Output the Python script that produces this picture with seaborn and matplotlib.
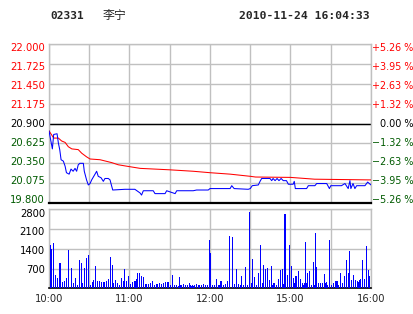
import matplotlib
matplotlib.use("Agg")
import matplotlib.pyplot as plt
import matplotlib.transforms as mtransforms
import numpy as np
import pandas as pd
import seaborn as sns

# ---------------- data ----------------
stock_code = "02331"
stock_name = "李宁"
stamp = "2010-11-24 16:04:33"
prev_close = 20.900
price_ticks = [19.800, 20.075, 20.350, 20.625, 20.900, 21.175, 21.450, 21.725, 22.000]
pct_labels = ["−5.26 %", "−3.95 %", "−2.63 %", "−1.32 %", "0.00 %",
              "+1.32 %", "+2.63 %", "+3.95 %", "+5.26 %"]
vol_ticks = [700, 1400, 2100, 2800]
time_ticks = [0, 30, 60, 90, 120, 150, 180, 210, 240]
time_labels = ["10:00", "", "11:00", "", "12:00", "", "15:00", "", "16:00"]

# trading minutes since 10:00 (minute 150 = 14:30 after the lunch break)
price_min = [0, 2.5, 3.5, 6, 7, 8, 9, 10.7, 12, 13,
             15, 16.4, 18, 19.4, 20.6, 21.8, 23, 25.6, 26.3, 28,
             29.3, 30.6, 31.8, 34.3, 35.5, 36.7, 38.8, 40.5, 41.7, 44.2,
             45.5, 46.2, 47.5, 56.6, 64, 67.8, 69, 70.3, 77.7, 79,
             86.5, 87.7, 94, 95.2, 107.5, 110, 118.7, 120, 135, 136.2,
             138, 148.5, 150, 151.5, 156, 157.3, 158.5, 164.7, 166, 167,
             168.5, 170, 171.4, 173, 174.6, 177, 178.4, 182, 182.8, 183.6,
             192, 193.3, 198.2, 199.5, 207, 209, 210, 218, 220.6, 223,
             224.3, 225, 226.6, 228, 229.3, 235.5, 237.5, 240]
price_val = [20.80, 20.55, 20.75, 20.76, 20.63, 20.54, 20.40, 20.38, 20.31, 20.22,
             20.20, 20.27, 20.24, 20.28, 20.24, 20.33, 20.35, 20.35, 20.24, 20.12,
             20.05, 20.07, 20.12, 20.20, 20.24, 20.17, 20.15, 20.10, 20.14, 20.14,
             20.12, 20.07, 19.98, 19.99, 19.99, 19.94, 19.91, 19.97, 19.97, 19.93,
             19.93, 19.97, 19.93, 19.97, 19.97, 19.98, 19.98, 20.00, 20.00, 20.04,
             20.00, 19.99, 20.00, 20.04, 20.05, 20.10, 20.14, 20.14, 20.11, 20.14,
             20.11, 20.14, 20.11, 20.14, 20.11, 20.11, 20.06, 20.06, 20.10, 20.00,
             20.00, 20.04, 20.04, 20.07, 20.07, 20.00, 20.04, 20.04, 20.07, 20.00,
             20.11, 20.00, 20.07, 20.00, 20.04, 20.04, 20.09, 20.05]

avg_min = [0, 3.5, 7, 9.4, 12, 14.4, 17, 21.8, 24.4, 28, 30.6, 38, 46.7,
           51.6, 58, 68, 90, 107.5, 120, 135, 150, 154, 180, 198, 240]
avg_val = [20.80, 20.70, 20.70, 20.66, 20.64, 20.58, 20.55, 20.54, 20.49, 20.44,
           20.41, 20.40, 20.36, 20.33, 20.31, 20.28, 20.26, 20.24, 20.22, 20.20,
           20.17, 20.16, 20.155, 20.13, 20.12]

vol_min = [0.75, 1.5, 2.2, 3.0, 4.5, 5.2, 6.0, 7.5, 8.2, 9.7, 10.4, 11.2, 12.7, 14.2, 14.9,
           16.4, 17.1, 17.9, 19.4, 20.1, 20.9, 22.4, 23.1, 23.9, 25.3, 26.1, 26.8, 27.6, 28.3,
           29.1, 29.8, 30.6, 31.3, 32.1, 32.8, 34.3, 35.0, 35.8, 36.5, 37.3, 38.0, 38.8, 39.5,
           40.3, 41.0, 41.7, 42.5, 43.2, 44.0, 44.7, 46.2, 47.0, 47.7, 48.4, 49.2, 49.9, 50.7,
           51.4, 52.2, 53.7, 55.2, 55.9, 56.6, 57.4, 58.1, 58.9, 59.6, 61.1, 61.9, 62.6, 63.4,
           64.1, 64.9, 65.6, 66.3, 67.1, 67.8, 68.6, 69.3, 70.1, 70.8, 72.3, 73.0, 74.5, 75.3,
           76.0, 76.8, 77.5, 78.3, 79.0, 79.8, 80.5, 81.2, 82.0, 82.7, 83.5, 84.2, 85.0, 85.7,
           86.5, 87.2, 88.0, 88.7, 89.4, 90.2, 90.9, 91.7, 92.4, 93.2, 93.9, 94.7, 95.4, 96.2,
           96.9, 97.7, 98.4, 99.1, 99.9, 100.6, 101.4, 102.1, 102.9, 103.6, 104.4, 105.1, 105.9,
           106.6, 107.4, 108.1, 108.8, 109.6, 110.3, 111.1, 111.8, 112.5, 113.3, 114.0, 114.8,
           115.5, 116.3, 117.0, 117.8, 118.5, 119.3,
           120.7, 121.5, 123.0, 124.5, 126.0, 127.4, 128.2, 129.7, 131.2, 132.7, 134.2, 134.9,
           136.4, 137.1, 138.6, 139.4, 140.1, 141.6, 142.4, 143.8, 144.6, 146.1, 146.8, 148.3,
           149.1, 149.8, 150.6, 151.3, 152.0, 152.8, 153.5, 155.0, 155.8, 156.5, 157.3, 158.0,
           158.8, 159.5, 160.2, 161.0, 161.7, 162.5, 163.2, 164.0, 164.7, 165.5, 166.2, 166.9,
           167.7, 169.2, 169.9, 170.7, 171.4, 172.2, 172.9, 173.7, 174.4, 175.1, 175.9, 176.6,
           177.4, 178.1, 178.9, 179.6, 180.4, 181.1, 181.9, 182.6, 183.3, 184.1, 184.8, 185.6,
           186.3, 187.1, 187.8, 188.6, 189.3, 190.0, 190.8, 191.5, 192.3, 193.0, 193.8, 194.5,
           195.3, 196.0, 196.8, 197.5, 198.2, 199.0, 199.7, 200.5, 201.2, 202.0, 202.7, 203.5,
           204.2, 205.0, 205.7, 206.4, 207.2, 207.9, 208.7, 209.4, 210.2, 210.9, 211.7, 212.4,
           213.2, 213.9, 214.6, 215.4, 216.1, 216.9, 217.6, 218.4, 219.1, 219.9, 220.6, 221.4,
           222.1, 222.9, 223.6, 224.3, 225.1, 225.8, 226.6, 227.3, 228.1, 228.8, 229.6, 230.3,
           231.0, 231.8, 232.5, 233.3, 234.0, 234.8, 235.5, 236.3, 237.0, 237.8, 238.5, 239.2]
vol_val = [1517, 990, 1377, 1600, 466, 373, 373, 327, 898, 175, 233, 256, 350, 1342, 222,
           665, 712, 200, 362, 150, 117, 990, 677, 910, 200, 500, 723, 175, 1085,
           350, 1167, 117, 117, 233, 292, 782, 256, 117, 256, 233, 256, 175, 210,
           210, 222, 222, 175, 256, 233, 327, 1108, 817, 175, 200, 256, 292, 140,
           175, 117, 373, 140, 256, 677, 140, 256, 117, 432, 140, 175, 210, 163,
           268, 315, 548, 466, 525, 233, 420, 175, 187, 408, 140, 117, 140, 175,
           200, 233, 256, 117, 105, 140, 140, 117, 175, 150, 150, 117, 175, 200,
           150, 222, 222, 222, 105, 105, 105, 466, 105, 80, 100, 80, 120, 80,
           385, 100, 120, 80, 100, 140, 80, 100, 80, 120, 175, 100, 80,
           120, 80, 100, 80, 150, 100, 80, 120, 80, 100, 80, 100,
           150, 80, 105, 80, 100, 1727,
           1248, 117, 117, 327, 117, 117, 256, 117, 140, 256, 117, 1867,
           1832, 700, 140, 700, 117, 140, 117, 432, 117, 758, 117, 117,
           2707, 466, 175, 117, 1050, 408, 200, 117, 175, 525, 548, 1517,
           117, 200, 817, 700, 292, 642, 735, 117, 292, 117, 782, 117,
           175, 117, 117, 327, 150, 583, 642, 408, 700, 150, 2625, 548,
           327, 466, 175, 1517, 793, 256, 350, 175, 175, 432, 200, 618,
           175, 327, 117, 175, 140, 117, 175, 1657, 175, 548, 618, 150,
           117, 117, 933, 117, 117, 1972, 758, 175, 117, 200, 117, 175,
           117, 500, 175, 175, 233, 117, 1727, 256, 117, 117, 117, 175,
           117, 268, 268, 268, 117, 175, 548, 117, 175, 140, 432, 990,
           175, 140, 548, 1307, 175, 292, 466, 233, 175, 292, 268, 117,
           233, 292, 327, 990, 233, 327, 292, 1482, 117, 642, 175, 432]

# ---------------- style ----------------
sns.set_style("white")
plt.rcParams["font.family"] = ["DejaVu Sans", "Noto Sans CJK SC"]

RED = "#ff0000"
GREEN = "#005a00"
BLUE = "#0000ff"
GRID = "#c0c0c0"
FS = 7.2

W, H = 414, 314
fig = plt.figure(figsize=(W / 100, H / 100), dpi=100)
fig.patch.set_facecolor("white")

L, R = 49 / W, 371 / W
ax1 = fig.add_axes([L, (H - 203) / H, R - L, (203 - 44.3) / H])
ax2 = fig.add_axes([L, (H - 288.3) / H, R - L, (288.3 - 209.3) / H])

price_df = pd.DataFrame({"minute": price_min, "price": price_val})
avg_df = pd.DataFrame({"minute": avg_min, "price": avg_val})

for ax in (ax1, ax2):
    ax.set_facecolor("white")
    ax.set_xlim(0, 240)
    ax.set_xticks(time_ticks)
    ax.set_axisbelow(True)
    ax.grid(True, color=GRID, lw=1.0)
    for s in ("top", "left", "right"):
        ax.spines[s].set_visible(True)
        ax.spines[s].set_color(GRID)
        ax.spines[s].set_linewidth(1.0)
    ax.spines["bottom"].set_color("black")
    ax.tick_params(length=0, labelsize=FS)

PX = 72 / 100  # one pixel in points


def px_offset(ax, transform, dx_px, dy_px):
    return mtransforms.offset_copy(transform, fig=fig, x=dx_px * PX, y=dy_px * PX,
                                   units="points")


# price panel
ax1.set_ylim(price_ticks[0], price_ticks[-1])
ax1.set_yticks(price_ticks)
ax1.set_yticklabels([])
ax1.set_xticklabels([])
ax1.spines["bottom"].set_linewidth(1.6)
ax1.axhline(prev_close, color="black", lw=1.0, zorder=2)

sns.lineplot(data=avg_df, x="minute", y="price", ax=ax1, color=RED, lw=0.75,
             estimator=None, sort=False, zorder=3)
sns.lineplot(data=price_df, x="minute", y="price", ax=ax1, color=BLUE, lw=0.75,
             estimator=None, sort=False, zorder=4)
ax1.set_xlabel("")
ax1.set_ylabel("")

ytrans = ax1.get_yaxis_transform()
for i, (p, txt) in enumerate(zip(price_ticks, pct_labels)):
    col = RED if p > prev_close else ("black" if p == prev_close else GREEN)
    dy = 2.8 - 0.84 * i  # labels sit slightly compressed relative to the grid
    trL = px_offset(ax1, ytrans, -4, dy)
    ax1.text(0.0, p, f"{p:.3f}", transform=trL, ha="right", va="center", color=col,
             fontsize=FS, clip_on=False)
    dx = 9 if p == prev_close else 1
    trR = px_offset(ax1, ytrans, dx, dy)
    ax1.text(1.0, p, txt, transform=trR, ha="left", va="center", color=col,
             fontsize=6.9, clip_on=False)

# volume panel
ax2.set_ylim(0, 2800)
ax2.set_yticks(vol_ticks)
ax2.set_yticklabels([])
ax2.set_xticklabels(time_labels)
ax2.tick_params(axis="x", pad=4)
ax2.spines["bottom"].set_linewidth(1.2)
ytrans2 = ax2.get_yaxis_transform()
for i, v in enumerate(vol_ticks):
    dy = -(1.0 + 1.1 * i)
    tr = px_offset(ax2, ytrans2, -4, dy)
    ax2.text(0.0, v, str(v), transform=tr, ha="right", va="center", color="black",
             fontsize=FS, clip_on=False)
ax2.bar(vol_min, vol_val, width=0.75, color=BLUE, linewidth=0,
        antialiased=False, zorder=3)

# header
fig.text(50 / W, 1 - 16 / H, stock_code, ha="left", va="center",
         family="DejaVu Sans Mono", weight="bold", fontsize=8.0)
fig.text(103 / W, 1 - 16 / H, stock_name, ha="left", va="center",
         family=["Noto Sans CJK SC", "DejaVu Sans"], fontsize=8.6)
fig.text(370 / W, 1 - 16 / H, stamp, ha="right", va="center",
         family="DejaVu Sans Mono", weight="bold", fontsize=8.2)

fig.savefig("out.png", dpi=100, facecolor="white")
